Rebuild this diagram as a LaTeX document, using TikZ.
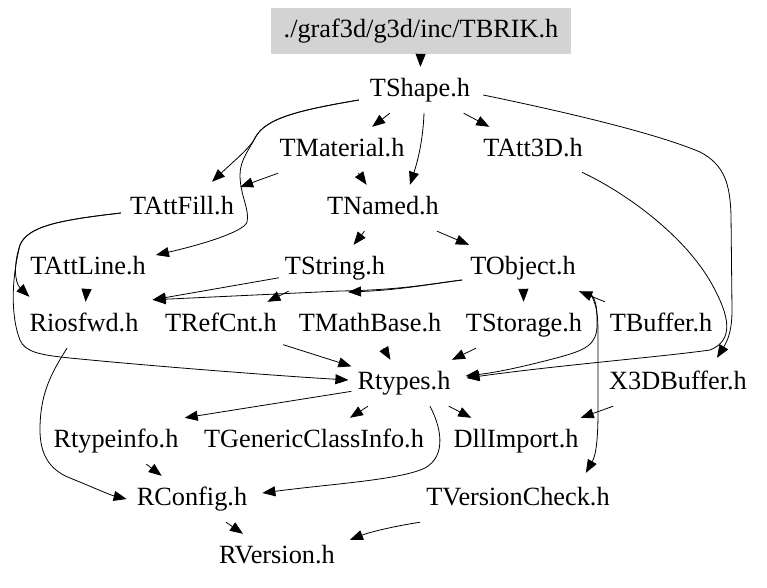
\documentclass[tikz,border=0pt]{standalone}
\usepackage{fontspec}
\setmainfont{Liberation Serif}
\usetikzlibrary{arrows.meta,calc}
\definecolor{boxgray}{HTML}{D3D3D3}
\tikzset{
  hnode/.style={font=\fontsize{26.3}{30}\selectfont, text height=19pt, text depth=6pt,
    minimum height=46pt, inner xsep=6pt, inner ysep=0pt},
  arr/.style={draw=black, line width=0.8pt, -{Triangle[length=13pt,width=10pt]}},
}
\begin{document}
\begin{tikzpicture}[x=1pt,y=-1pt]
\useasboundingbox (0,0) rectangle (767,587);
% nodes
\node[hnode, fill=boxgray, minimum width=300pt] (TBRIK) at (421,31) {./graf3d/g3d/inc/TBRIK.h};
\node[hnode] (TShape) at (420,90) {TShape.h};
\node[hnode] (TMaterial) at (342,150) {TMaterial.h};
\node[hnode] (TAtt3D) at (533,150) {TAtt3D.h};
\node[hnode] (TAttFill) at (182,208) {TAttFill.h};
\node[hnode] (TNamed) at (383,208) {TNamed.h};
\node[hnode] (TAttLine) at (88,268) {TAttLine.h};
\node[hnode] (TString) at (335,268) {TString.h};
\node[hnode] (TObject) at (523,268) {TObject.h};
\node[hnode] (Riosfwd) at (84,325) {Riosfwd.h};
\node[hnode] (TRefCnt) at (221,325) {TRefCnt.h};
\node[hnode] (TMathBase) at (370,325) {TMathBase.h};
\node[hnode] (TStorage) at (524,325) {TStorage.h};
\node[hnode] (TBuffer) at (661,325) {TBuffer.h};
\node[hnode] (Rtypes) at (404,383) {Rtypes.h};
\node[hnode] (X3DBuffer) at (678,383) {X3DBuffer.h};
\node[hnode] (Rtypeinfo) at (116,441) {Rtypeinfo.h};
\node[hnode] (TGenericClassInfo) at (314,441) {TGenericClassInfo.h};
\node[hnode] (DllImport) at (516,441) {DllImport.h};
\node[hnode] (RConfig) at (192,499) {RConfig.h};
\node[hnode] (TVersionCheck) at (518,499) {TVersionCheck.h};
\node[hnode] (RVersion) at (277,557) {RVersion.h};

% straight edges
\draw[arr] (TBRIK) -- (TShape);
\draw[arr] (TShape) -- (TMaterial);
\draw[arr] (TShape) -- (TAtt3D);
\draw[arr] (TMaterial) -- (TAttFill);
\draw[arr] (TMaterial) -- (TNamed);
\draw[arr] (TNamed) -- (TString);
\draw[arr] (TNamed) -- (TObject);
\draw[arr] (TAttLine) -- (Riosfwd);
\draw[arr] (TString) -- (TRefCnt);
\draw[arr] (TString) -- ($(Riosfwd.north east)+(8,-2)$);
\draw[arr] (TObject) -- (TStorage);
\draw[arr] (TBuffer) -- (TObject);
\draw[arr] (TRefCnt) -- (Rtypes);
\draw[arr] (TMathBase) -- (Rtypes);
\draw[arr] (TStorage) -- (Rtypes);
\draw[arr] (X3DBuffer) -- (DllImport);
\draw[arr] (Rtypes) -- (Rtypeinfo.north east);
\draw[arr] (Rtypes) -- (TGenericClassInfo);
\draw[arr] (Rtypes) -- (DllImport);
\draw[arr] (Rtypeinfo) -- (RConfig);
\draw[arr] (RConfig) -- (RVersion);

% curved edges
\draw[arr] ($(TShape.south)+(4,0)$) .. controls (423,140) and (418,160) .. ($(TNamed.north)+(27,0)$);
\draw[arr] ($(TShape.west)+(-5,10)$) .. controls (300,110) and (265,118) .. (255,138)
  .. controls (250,148) and (235,160) .. ($(TAttFill.north)+(30,-3)$);
\draw[arr] ($(TShape.west)+(-5,10)$) .. controls (300,110) and (265,118) .. (255,138)
  .. controls (249,150) and (240,160) .. (240,175)
  .. controls (240,195) and (250,210) .. (247,222)
  .. controls (244,232) and (200,245) .. ($(TAttLine.east)+(4,-13)$);
\draw[arr] ($(TAttFill.west)+(-3,5)$) .. controls (60,220) and (28,226) .. (20,245)
  .. controls (14,262) and (14,282) .. ($(Riosfwd.north west)+(6,-5)$);
\draw[arr] ($(TAttFill.west)+(-3,5)$) .. controls (60,220) and (28,226) .. (20,245)
  .. controls (10,285) and (12,320) .. (20,340)
  .. controls (25,352) and (40,355) .. (70,358)
  .. controls (150,366) and (280,376) .. ($(Rtypes.west)+(-3,-3)$);
\draw[arr] ($(Riosfwd.south)+(-17,0)$) .. controls (50,375) and (40,395) .. (40,430)
  .. controls (40,455) and (50,470) .. (70,478)
  .. controls (90,486) and (110,495) .. ($(RConfig.west)+(-4,0)$);
\draw[arr] ($(Rtypes.south)+(26,0)$) .. controls (440,425) and (448,455) .. (425,468)
  .. controls (400,480) and (330,484) .. ($(RConfig.east)+(9,-6)$);
\draw[arr] ($(TVersionCheck.south west)+(0,0)$) .. controls (395,526) and (370,532) .. ($(RVersion.north east)+(9,6)$);
\draw[arr] ($(TObject.west)+(-2,12)$) .. controls (430,284) and (400,290) .. (340,291)
  -- ($(Riosfwd.north east)+(8,-2)$);
\coordinate (midtip) at (348,292);
\draw[arr] ($(TObject.west)+(-2,12)$) .. controls (430,284) and (400,290) .. (midtip);
\draw[arr] ($(TObject.south east)+(8,2)$) .. controls (597,300) and (597,310) .. (597,325)
  .. controls (597,345) and (585,350) .. (560,357)
  .. controls (530,365) and (500,372) .. ($(Rtypes.east)+(9,-7)$);
\draw[arr] ($(TObject.south east)+(8,2)$) .. controls (598,305) and (598,320) .. (598,340)
  -- (598,410) .. controls (598,440) and (596,455) .. ($(TVersionCheck.north east)+(-30,-3)$);
\draw[arr] ($(TShape.east)+(7,5)$) .. controls (580,115) and (660,135) .. (700,152)
  .. controls (725,165) and (730,185) .. (731,215)
  -- (732,310) .. controls (732,330) and (728,340) .. ($(X3DBuffer.north)+(39,-2)$);
\draw[arr] ($(TAtt3D.south east)+(-7,-1)$) .. controls (630,195) and (690,240) .. (715,290)
  .. controls (728,315) and (735,340) .. (710,350)
  .. controls (660,357) and (560,365) .. ($(Rtypes.east)+(10,-5)$);
\end{tikzpicture}
\end{document}
